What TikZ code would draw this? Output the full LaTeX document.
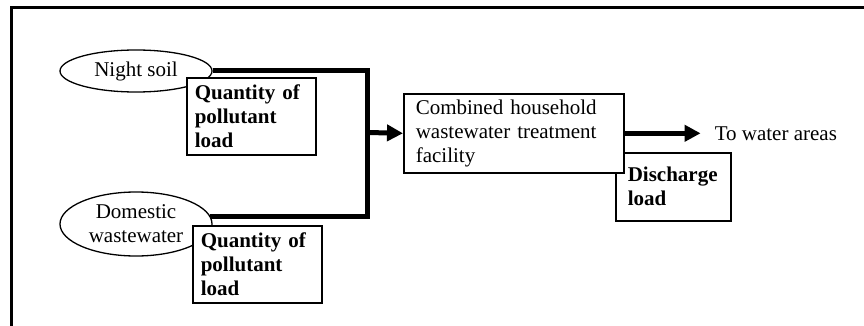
\documentclass[tikz,border=0pt]{standalone}
\usepackage{fontspec}
\setmainfont{Liberation Serif}
\usetikzlibrary{shapes.geometric,arrows.meta,positioning}
\tikzset{
    txt/.style={font=\fontsize{21}{24}\selectfont},
    src/.style={txt, ellipse, draw, line width=1.3pt, inner sep=0pt, align=center},
    loadbox/.style={draw, fill=white, line width=1.6pt, anchor=north west, align=left, font=\fontsize{21}{24}\selectfont\bfseries},
    facbox/.style={txt, draw, fill=white, line width=1.6pt, anchor=north west, align=left},
    flow/.style={line width=5pt},
    bigtip/.style={-{Triangle[length=16pt,width=16pt]}}
}
\begin{document}
\begin{tikzpicture}[x=1pt, y=-1pt]
    \useasboundingbox (0,0) rectangle (864,326);
    \draw[line width=3pt] (11,330) -- (11,7.5) -- (870,7.5);

    \node[src, minimum width=152pt, minimum height=42pt] (night) at (136,71) {Night soil};
    \node[src, minimum width=152pt, minimum height=64pt] (dom) at (136,224) {Domestic\\wastewater};

    \foreach \x/\y/\n in {186/77/qa, 192/225/qb}{
      \node[loadbox, minimum width=129pt, minimum height=77pt, text width=113pt, inner xsep=8pt] (\n) at (\x,\y) {Quantity of\\pollutant\\load};
    }

    \node[loadbox, minimum width=115pt, minimum height=68pt, text width=91pt, inner xsep=12pt] (dis) at (615,152) {Discharge\\load};
    \node[facbox, minimum width=220pt, minimum height=79pt, text width=196pt, inner xsep=12pt] (fac) at (403,93) {Combined household\\wastewater treatment\\facility};

    \coordinate (jn) at (367.5,132.5);
    \draw[flow] (night.east) -| (jn);
    \draw[flow] (dom.6) -| (jn);
    \draw[flow, bigtip] (jn) -- (fac.west);

    \path (fac.east) ++(76,0) coordinate (outend);
    \draw[flow, bigtip] (fac.east) -- (outend);
    \node[txt, right=14pt of outend, inner sep=0pt] (water) {To water areas};
\end{tikzpicture}
\end{document}
